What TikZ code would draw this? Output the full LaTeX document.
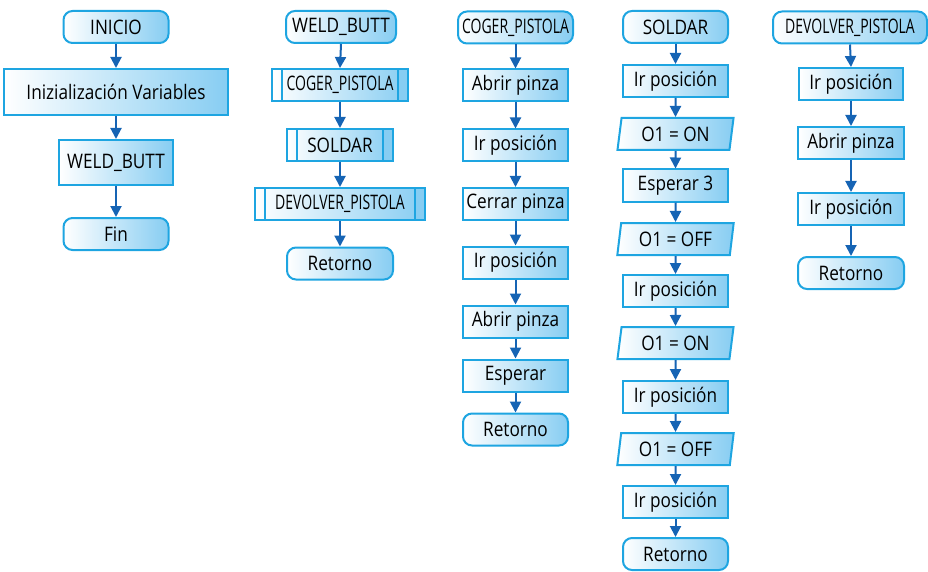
\documentclass[tikz,border=0pt]{standalone}
\usepackage{fontspec}
\setmainfont{Open Sans}[FakeStretch=0.86]
\newfontfamily\estrecha{Open Sans}[FakeStretch=0.70]
\usetikzlibrary{arrows.meta,shapes.geometric}
\definecolor{borde}{RGB}{30,165,225}
\definecolor{relleno}{RGB}{135,205,242}
\definecolor{flechaazul}{RGB}{22,100,180}
\tikzset{
  caja/.style={draw=borde,line width=2pt,left color=white,right color=relleno,
    inner sep=0pt,minimum height=32pt,text=black,
    font=\fontsize{20}{24}\selectfont},
  proc/.style={caja,rectangle},
  term/.style={caja,rectangle,rounded corners=9pt},
  sub/.style={caja,rectangle,path picture={
      \fill[relleno] ([xshift=-10pt]path picture bounding box.north east) rectangle (path picture bounding box.south east);
      \draw[borde,line width=2pt] ([xshift=10pt]path picture bounding box.north west) -- ([xshift=10pt]path picture bounding box.south west);
      \draw[borde,line width=2pt] ([xshift=-10pt]path picture bounding box.north east) -- ([xshift=-10pt]path picture bounding box.south east);}},
  dato/.style={caja,trapezium,trapezium left angle=80,trapezium right angle=100,
    trapezium stretches=true,minimum width=117pt},
  flecha/.style={draw=flechaazul,line width=2pt,-{Triangle[length=11pt,width=11pt]}}
}
\begin{document}
\begin{tikzpicture}[x=1pt,y=-1pt]
  \useasboundingbox (0,0) rectangle (928,572);
  % principal
  \node[term,minimum width=105pt] (p1) at (116,27) {INICIO};
  \node[proc,minimum width=224pt,minimum height=46pt] (p2) at (116,92) {Inizialización Variables};
  \node[proc,minimum width=114pt,minimum height=45pt] (p3) at (116,162.5) {WELD\_BUTT};
  \node[term,minimum width=105pt] (p4) at (116,234) {Fin};
  % WELD_BUTT
  \node[term,minimum width=110pt] (w1) at (341,27) {WELD\_BUTT};
  \node[sub,minimum width=136pt] (w2) at (340,85) {\estrecha COGER\_PISTOLA};
  \node[sub,minimum width=106pt] (w3) at (340,145) {SOLDAR};
  \node[sub,minimum width=170pt] (w4) at (340,204) {\estrecha DEVOLVER\_PISTOLA};
  \node[term,minimum width=106pt] (w5) at (340,263.5) {Retorno};
  % COGER_PISTOLA
  \node[term,minimum width=115pt] (c1) at (515.5,27.5) {\estrecha COGER\_PISTOLA};
  \node[proc,minimum width=105pt] (c2) at (515.5,85.5) {Abrir pinza};
  \node[proc,minimum width=105pt] (c3) at (515.5,145.5) {Ir posición};
  \node[proc,minimum width=105pt] (c4) at (515.5,204) {Cerrar pinza};
  \node[proc,minimum width=105pt] (c5) at (515.5,262.5) {Ir posición};
  \node[proc,minimum width=105pt] (c6) at (515.5,321.5) {Abrir pinza};
  \node[proc,minimum width=105pt] (c7) at (515.5,375.5) {Esperar};
  \node[term,minimum width=105pt] (c8) at (515.5,429.5) {Retorno};
  % SOLDAR
  \node[term,minimum width=105pt] (s1) at (675.5,27) {SOLDAR};
  \node[proc,minimum width=105pt] (s2) at (675.5,81) {Ir posición};
  \node[dato] (s3) at (675.5,134) {O1 = ON};
  \node[proc,minimum width=105pt] (s4) at (675.5,185.5) {Esperar 3};
  \node[dato] (s5) at (675.5,239) {O1 = OFF};
  \node[proc,minimum width=105pt] (s6) at (675.5,291) {Ir posición};
  \node[dato] (s7) at (675.5,343) {O1 = ON};
  \node[proc,minimum width=105pt] (s8) at (675.5,397) {Ir posición};
  \node[dato] (s9) at (675.5,449) {O1 = OFF};
  \node[proc,minimum width=105pt] (s10) at (675.5,502) {Ir posición};
  \node[term,minimum width=105pt] (s11) at (675.5,554) {Retorno};
  % DEVOLVER_PISTOLA
  \node[term,minimum width=154pt] (d1) at (850,27.5) {\estrecha DEVOLVER\_PISTOLA};
  \node[proc,minimum width=104pt] (d2) at (851,84) {Ir posición};
  \node[proc,minimum width=106pt] (d3) at (851,143) {Abrir pinza};
  \node[proc,minimum width=106pt] (d4) at (851,209) {Ir posición};
  \node[term,minimum width=106pt] (d5) at (851,273) {Retorno};
  \foreach \a/\b in {p1/p2,p2/p3,p3/p4,w1/w2,w2/w3,w3/w4,w4/w5,
      c1/c2,c2/c3,c3/c4,c4/c5,c5/c6,c6/c7,c7/c8,
      s1/s2,s2/s3,s3/s4,s4/s5,s5/s6,s6/s7,s7/s8,s8/s9,s9/s10,s10/s11,
      d1/d2,d2/d3,d3/d4,d4/d5}
    \draw[flecha] (\a.south) -- (\b.north);
\end{tikzpicture}
\end{document}
